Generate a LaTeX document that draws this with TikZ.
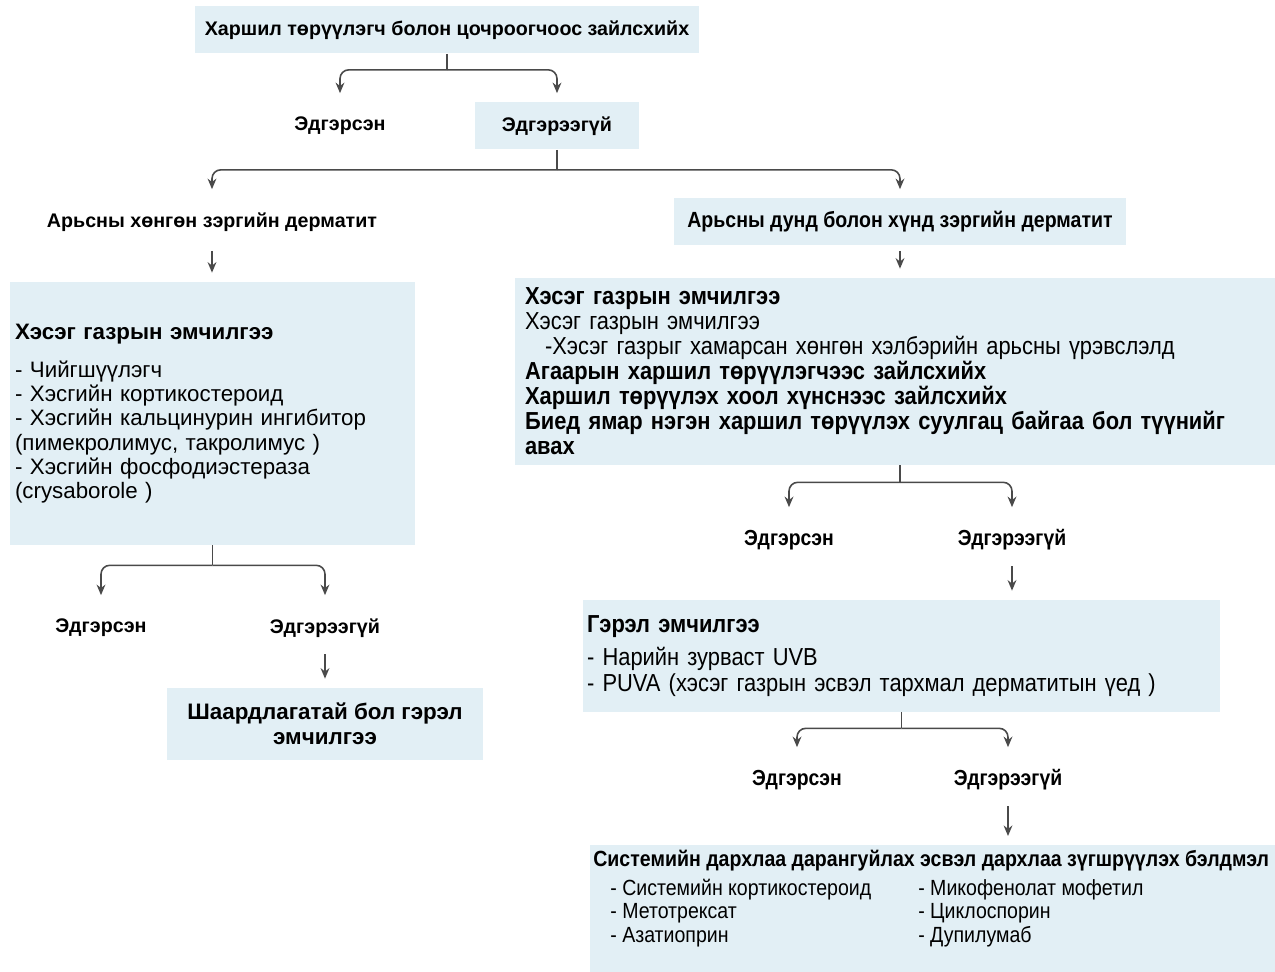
\documentclass[tikz,border=0pt]{standalone}
\usepackage{fontspec}
\setmainfont{Liberation Sans}
\newfontfamily\narrowfont[FakeStretch=0.89]{Liberation Sans}
\usetikzlibrary{arrows.meta}
\definecolor{boxblue}{HTML}{E2EFF5}
\definecolor{linegray}{HTML}{4A4A4A}
\tikzset{
  answer/.style={font=\bfseries\fontsize{11.2}{13.4}\selectfont, minimum height=0.94cm, inner sep=0pt},
  narrowanswer/.style={answer, font=\narrowfont\bfseries\fontsize{12.4}{14.4}\selectfont},
  shadebox/.style={fill=boxblue, inner sep=0pt, align=left},
  link/.style={draw=linegray, line width=0.9pt},
  linkarrow/.style={link, -{Stealth[length=6pt,width=5pt]}, shorten >=0.18cm},
  bracket/.style={linkarrow, rounded corners=5pt},
}
\begin{document}
\begin{tikzpicture}[x=0.02cm, y=-0.02cm]
    \useasboundingbox (0,0) rectangle (1275,972);
    % top of the chart
    \node[answer, fill=boxblue, minimum width=10.1cm] (avoid) at (447,30) {Харшил төрүүлэгч болон цочроогчоос зайлсхийх};
    \node[answer] (healA) at (340,126) {Эдгэрсэн};
    \node[answer, fill=boxblue, minimum width=3.3cm] (notA) at (557,126) {Эдгэрээгүй};
    \node[answer] (mild) at (212,222) {Арьсны хөнгөн зэргийн дерматит};
    \node[narrowanswer, font=\narrowfont\bfseries\fontsize{12.5}{14.4}\selectfont, fill=boxblue, minimum width=9.04cm] (severe) at (900,222) {Арьсны дунд болон хүнд зэргийн дерматит};
    % treatment boxes
    \node[shadebox, minimum width=8.1cm, minimum height=5.26cm, text width=7.9cm,
          font=\fontsize{12.7}{13.8}\selectfont] (mildcare) at (212.5,413.5)
      {\textbf{Хэсэг газрын эмчилгээ}\\[8pt]
       - Чийгшүүлэгч\\
       - Хэсгийн кортикостероид\\
       - Хэсгийн кальцинурин ингибитор\\
       (пимекролимус, такролимус )\\
       - Хэсгийн фосфодиэстераза\\
       (crysaborole )};
    \node[shadebox, minimum width=15.2cm, minimum height=3.74cm, text width=14.8cm,
          font=\narrowfont\fontsize{14}{14.2}\selectfont] (severecare) at (895,371.5)
      {\textbf{Хэсэг газрын эмчилгээ}\\
       Хэсэг газрын эмчилгээ\\
       \hspace*{0.4cm}-Хэсэг газрыг хамарсан хөнгөн хэлбэрийн арьсны үрэвслэлд\\
       \textbf{Агаарын харшил төрүүлэгчээс зайлсхийх}\\
       \textbf{Харшил төрүүлэх хоол хүнснээс зайлсхийх}\\
       \textbf{Биед ямар нэгэн харшил төрүүлэх суулгац байгаа бол түүнийг}\\
       \textbf{авах}};
    % mild branch
    \node[answer] (healB) at (101,628) {Эдгэрсэн};
    \node[answer] (notB) at (325,628) {Эдгэрээгүй};
    \node[shadebox, align=center, minimum width=6.34cm, minimum height=1.44cm,
          font=\bfseries\fontsize{12.75}{14.2}\selectfont] (lightB) at (325,724)
      {Шаардлагатай бол гэрэл\\эмчилгээ};
    % severe branch
    \node[narrowanswer] (healC) at (789,540) {Эдгэрсэн};
    \node[narrowanswer] (notC) at (1012,540) {Эдгэрээгүй};
    \node[shadebox, minimum width=12.74cm, minimum height=2.24cm, text width=12.58cm,
          font=\narrowfont\fontsize{14}{14.7}\selectfont] (lightC) at (901.5,656)
      {\textbf{Гэрэл эмчилгээ}\\[4pt]
       - Нарийн зурваст UVB\\
       - PUVA (хэсэг газрын эсвэл тархмал дерматитын үед )};
    \node[narrowanswer] (healD) at (797,780) {Эдгэрсэн};
    \node[narrowanswer] (notD) at (1008,780) {Эдгэрээгүй};
    \node[shadebox, anchor=north west, inner xsep=0.06cm, inner ysep=0.1cm,
          font=\narrowfont\fontsize{12.5}{13.6}\selectfont] (systemic) at (590,845)
      {\begin{minipage}[t][2.34cm][t]{13.58cm}
       \textbf{Системийн дархлаа дарангуйлах эсвэл дархлаа зүгшрүүлэх бэлдмэл}\\[3pt]
       \hspace*{0.34cm}\begin{tabular}{@{}p{6.16cm}@{}l@{}}
       - Системийн кортикостероид & - Микофенолат мофетил\\
       - Метотрексат & - Циклоспорин\\
       - Азатиоприн & - Дупилумаб
       \end{tabular}
       \end{minipage}};
    % connectors
    \coordinate (j1) at ([yshift=-0.32cm]avoid.south);
    \draw[link] (avoid.south) -- (j1);
    \draw[bracket] (j1) -| (healA.north);
    \draw[bracket] (j1) -| (notA.north);
    \coordinate (j2) at ([yshift=-0.4cm]notA.south);
    \draw[link] (notA.south) -- (j2);
    \draw[bracket] (j2) -| (mild.north);
    \draw[bracket] (j2) -| (severe.north);
    \draw[linkarrow, shorten <=0.1cm] (mild.south) -- (mild.south |- mildcare.north);
    \draw[linkarrow, shorten <=0.1cm] (severe.south) -- (severe.south |- severecare.north);
    \coordinate (j3) at ([yshift=-0.4cm]mildcare.south);
    \draw[link] (mildcare.south) -- (j3);
    \draw[bracket] (j3) -| (healB.north);
    \draw[bracket] (j3) -| (notB.north);
    \draw[linkarrow, shorten <=0.05cm] (notB.south) -- (notB.south |- lightB.north);
    \coordinate (j4) at ([xshift=0.1cm,yshift=-0.34cm]severecare.south);
    \draw[link] ([xshift=0.1cm]severecare.south) -- (j4);
    \draw[bracket] (j4) -| (healC.north);
    \draw[bracket] (j4) -| (notC.north);
    \draw[linkarrow, shorten <=0.05cm] (notC.south) -- (notC.south |- lightC.north);
    \coordinate (j5) at ([yshift=-0.32cm]lightC.south);
    \draw[link] (lightC.south) -- (j5);
    \draw[bracket] (j5) -| (healD.north);
    \draw[bracket] (j5) -| (notD.north);
    \draw[linkarrow, shorten <=0.05cm] (notD.south) -- (notD.south |- systemic.north);
\end{tikzpicture}
\end{document}
